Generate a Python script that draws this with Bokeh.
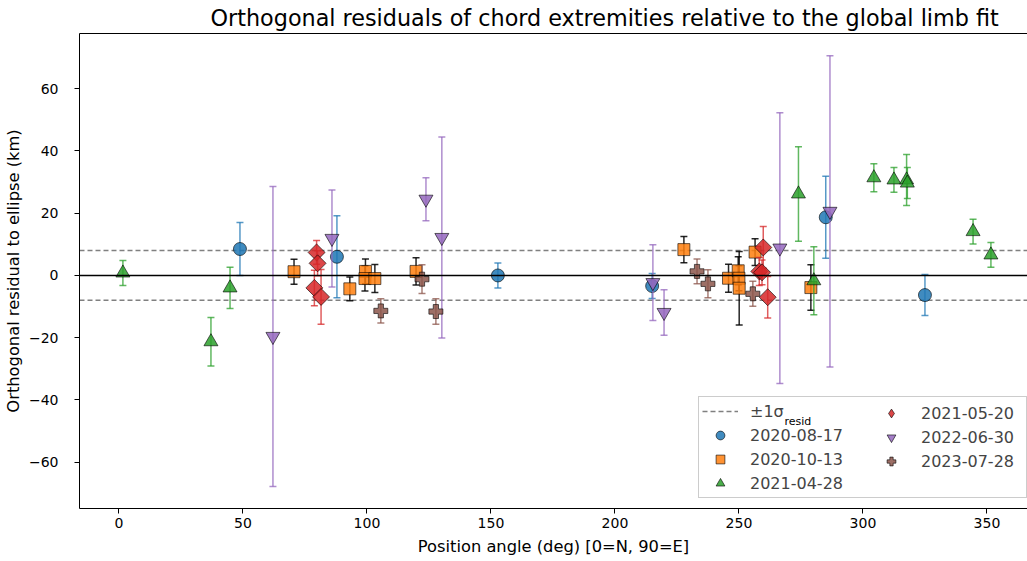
from bokeh.plotting import figure
from bokeh.models import Range1d, Span, Legend, LegendItem, FixedTicker, Label, LinearAxis
from bokeh.embed import file_html
from bokeh.resources import INLINE

# ---------------- data ----------------
sigma_resid = 8.0
xlim = (-15.9, 366.35)
ylim = (-74.9, 77.76)

dates = ["2020-08-17", "2020-10-13", "2021-04-28", "2021-05-20", "2022-06-30", "2023-07-28"]

pa_0817 = [48.8, 87.9, 152.8, 215.0, 285.0, 325.0]
res_0817 = [8.5, 6.0, 0.0, -3.4, 18.7, -6.3]
err_0817 = [8.5, 13.2, 4.0, 4.0, 13.2, 6.6]

pa_1013 = [70.6, 93.1, 99.4, 99.2, 103.2, 119.8, 227.8, 245.8, 249.7, 250.0, 250.1, 256.5, 279.0]
res_1013 = [1.2, -4.3, 1.3, -1.0, -1.0, 1.3, 8.3, -0.9, 1.5, -0.9, -4.1, 7.5, -3.9]
err_1013 = [4.0, 3.8, 4.0, 4.0, 4.5, 4.4, 4.2, 4.5, 4.5, 4.0, 11.8, 4.3, 7.3]

pa_0428 = [1.6, 37.1, 44.8, 274.0, 280.2, 304.4, 312.5, 317.6, 317.9, 344.4, 351.6]
res_0428 = [0.8, -21.3, -4.0, 26.2, -1.7, 31.4, 30.7, 30.7, 29.7, 14.1, 6.6]
err_0428 = [4.0, 7.8, 6.6, 15.2, 10.9, 4.5, 4.0, 8.2, 5.0, 4.0, 4.0]

pa_0520 = [79.7, 80.1, 78.8, 81.5, 259.8, 258.2, 259.3, 261.6]
res_0520 = [7.4, 3.9, -4.0, -6.9, 9.0, 1.3, 1.0, -7.0]
err_0520 = [3.8, 4.0, 5.7, 8.8, 6.7, 4.5, 4.0, 6.7]

pa_0630 = [62.1, 85.9, 123.8, 130.2, 215.3, 219.8, 266.5, 286.7]
res_0630 = [-19.6, 11.9, 24.5, 12.2, -2.3, -11.9, 8.8, 20.6]
err_0630 = [48.2, 15.6, 6.9, 32.3, 12.2, 7.3, 43.5, 50.0]

pa_0728 = [105.6, 122.2, 127.8, 233.1, 237.5, 255.6]
res_0728 = [-11.4, -1.2, -11.6, 1.3, -2.7, -5.9]
err_0728 = [3.9, 4.6, 4.1, 4.0, 4.5, 4.0]

x_ticks = [0, 50, 100, 150, 200, 250, 300, 350]
y_ticks = [-60, -40, -20, 0, 20, 40, 60]

# ---------------- styling ----------------
styles = [
    dict(marker="circle", color="#1f77b4", ecolor="#1f77b4", size=13, angle=0.0, leg=None),
    dict(marker="square", color="#ff7f0e", ecolor="#000000", size=12, angle=0.0, leg=None),
    dict(marker="triangle", color="#2ca02c", ecolor="#2ca02c", size=14, angle=0.0, leg=None),
    dict(marker="square", color="#d62728", ecolor="#d62728", size=12, angle=0.785398, leg="diamond"),
    dict(marker="inverted_triangle", color="#9467bd", ecolor="#9467bd", size=14, angle=0.0, leg=None),
    dict(marker="plus", color="#8c564b", ecolor="#8c564b", size=14, angle=0.0, leg=None),
]
data = [
    (pa_0817, res_0817, err_0817),
    (pa_1013, res_1013, err_1013),
    (pa_0428, res_0428, err_0428),
    (pa_0520, res_0520, err_0520),
    (pa_0630, res_0630, err_0630),
    (pa_0728, res_0728, err_0728),
]

FONT = "DejaVu Sans"

p = figure(width=1027, height=561, output_backend="svg", toolbar_location=None,
           x_range=Range1d(*xlim), y_range=Range1d(*ylim),
           title="Orthogonal residuals of chord extremities relative to the global limb fit")
p.min_border_left = 79
p.min_border_right = 0
p.min_border_top = 31
p.min_border_bottom = 53
p.title.align = "left"
p.title.offset = 131
p.title.standoff = 5
p.title.text_font = FONT
p.title.text_font_size = "22.3px"
p.title.text_font_style = "normal"
p.title.text_color = "#000000"
p.grid.visible = False
p.outline_line_color = None
p.background_fill_color = "white"
p.border_fill_color = "white"

xax = p.below[0]
yax = p.left[0]

top_axis = LinearAxis(ticker=FixedTicker(ticks=[]), axis_line_color="#000000",
                      major_tick_line_color=None, minor_tick_line_color=None,
                      major_label_text_font_size="0px")
p.add_layout(top_axis, "above")

for ax in (xax, yax):
    ax.axis_line_color = "#000000"
    ax.major_tick_line_color = "#000000"
    ax.major_tick_out = 5
    ax.major_tick_in = 0
    ax.minor_tick_line_color = None
    ax.major_label_text_font = FONT
    ax.major_label_text_font_size = "14px"
    ax.major_label_text_color = "#000000"
    ax.axis_label_text_font = FONT
    ax.axis_label_text_font_size = "16.3px"
    ax.axis_label_text_font_style = "normal"
    ax.axis_label_text_color = "#000000"

xax.ticker = FixedTicker(ticks=x_ticks)
yax.ticker = FixedTicker(ticks=y_ticks)
yax.major_label_overrides = {t: (str(t).replace("-", "\u2212")) for t in y_ticks}
xax.axis_label = "Position angle (deg) [0=N, 90=E]"
yax.axis_label = "Orthogonal residual to ellipse (km)"
xax.major_label_standoff = 4
yax.major_label_standoff = 16
xax.axis_label_standoff = 6
yax.axis_label_standoff = 3

# reference lines
p.add_layout(Span(location=0, dimension="width", line_color="#000000", line_width=1.5))
sig_r = p.multi_line(xs=[list(xlim), list(xlim)], ys=[[sigma_resid] * 2, [-sigma_resid] * 2],
                     line_color="#808080", line_width=1.5, line_dash="5 3")

legend_renderers = []
for (pa, res, err), st in zip(data, styles):
    lo = [r - e for r, e in zip(res, err)]
    hi = [r + e for r, e in zip(res, err)]
    ea = 0.75 if st["ecolor"] != "#000000" else 0.85
    p.segment(x0=pa, y0=lo, x1=pa, y1=hi, line_color=st["ecolor"], line_width=1.5, line_alpha=ea)
    p.scatter(x=pa, y=hi, marker="dash", size=7, line_color=st["ecolor"], line_width=1.5, line_alpha=ea)
    p.scatter(x=pa, y=lo, marker="dash", size=7, line_color=st["ecolor"], line_width=1.5, line_alpha=ea)
    r = p.scatter(x=pa, y=res, marker=st["marker"], size=st["size"], angle=st["angle"],
                  fill_color=st["color"], fill_alpha=0.85, line_color="#000000",
                  line_alpha=0.75, line_width=0.8)
    if st["leg"] is not None:
        # legend-only proxy (no visible point)
        r = p.scatter(x=[float("nan")], y=[float("nan")], marker=st["leg"], size=st["size"],
                      fill_color=st["color"], fill_alpha=0.85, line_color="#000000",
                      line_alpha=0.75, line_width=0.8)
    legend_renderers.append(r)

items1 = [LegendItem(label="\u00b11\u03c3", renderers=[sig_r])]
for d, r in zip(dates[:3], legend_renderers[:3]):
    items1.append(LegendItem(label=d, renderers=[r]))
items2 = [LegendItem(label=d, renderers=[r]) for d, r in zip(dates[3:], legend_renderers[3:])]

common = dict(label_text_font=FONT, label_text_font_size="16px",
              glyph_width=36, glyph_height=22, spacing=2, padding=3, margin=0,
              label_standoff=12)

legend1 = Legend(items=items1, location=(619, 10), label_width=273,
                 border_line_color="#999999", border_line_width=1,
                 background_fill_color="white", background_fill_alpha=0.0, **common)
legend2 = Legend(items=items2, location=(794, 36), label_width=93,
                 border_line_color=None, background_fill_alpha=0.0, **common)
p.add_layout(legend1)
p.add_layout(legend2)

p.add_layout(Label(x=705, y=87, x_units="screen", y_units="screen", text="resid",
                   text_font=FONT, text_font_size="11px", text_baseline="alphabetic",
                   text_color="#000000"))

open("out.html", "w").write(file_html(p, INLINE))
